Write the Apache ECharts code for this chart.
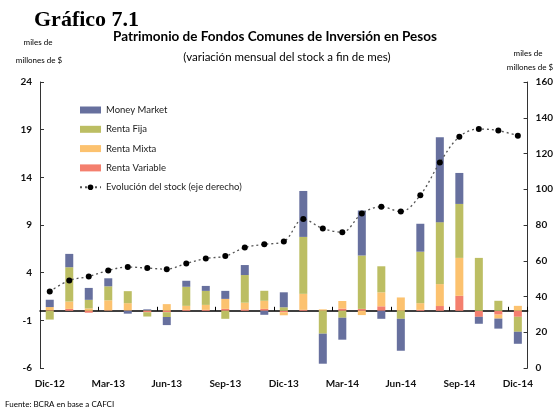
<!DOCTYPE html>
<html>
<head>
<meta charset="utf-8">
<script src="https://cdn.jsdelivr.net/npm/echarts@6/dist/echarts.min.js"></script>
<style>
html,body{margin:0;padding:0;background:#fff;}
#chart{width:556px;height:411px;}
</style>
</head>
<body>
<div id="chart"></div>
<script>
var months = ['Dic-12','Ene-13','Feb-13','Mar-13','Abr-13','May-13','Jun-13','Jul-13','Ago-13','Sep-13','Oct-13','Nov-13','Dic-13','Ene-14','Feb-14','Mar-14','Abr-14','May-14','Jun-14','Jul-14','Ago-14','Sep-14','Oct-14','Nov-14','Dic-14'];
var moneyMarket = [0.77,1.4,1.25,0.84,-0.3,0.1,-0.85,0.63,0.52,0.84,1.05,-0.42,1.57,4.82,-3.15,-2.3,4.72,-0.84,-3.35,2.93,8.9,3.25,-0.73,-1.05,-1.26];
var rentaFija = [-0.92,3.6,0.9,1.47,1.26,-0.45,-0.5,2.0,1.47,-0.84,2.9,1.05,0.37,5.97,-2.4,-0.73,5.6,2.73,-0.84,5.4,6.5,5.66,5.55,1.05,-1.57];
var rentaMixta = [0.34,0.77,0.25,1.05,0.77,0.05,0.7,0.42,0.52,1.05,0.7,0.85,-0.32,1.68,0.15,0.8,-0.45,1.47,1.4,0.7,2.3,3.98,0,-0.42,0.52];
var rentaVariable = [0.05,0.2,-0.2,0.05,0.03,-0.15,-0.15,0.1,0.1,0.2,0.15,0.2,-0.15,0.1,0,0.23,0.2,0.47,0,0.1,0.5,1.57,-0.63,-0.4,-0.63];
var stock = [42.8,49.0,51.2,54.6,56.5,55.9,55.3,58.5,61.3,62.6,67.4,69.2,70.7,83.3,78.0,76.0,86.4,90.2,87.5,96.7,114.9,129.4,133.7,132.8,130.0];
var leftMin = -6, leftMax = 24, leftStep = 5;
var rightMin = 0, rightMax = 160, rightStep = 20;

var FONT = 'Lato, "DejaVu Sans", sans-serif';
var chart = echarts.init(document.getElementById('chart'), null, {renderer:'canvas'});

function barSeries(name, data, color){
  return {name:name, type:'bar', stack:'total', data:data, barWidth:8,
    xAxisIndex:0, yAxisIndex:0, itemStyle:{color:color}, animation:false};
}

var option = {
  animation:false,
  backgroundColor:'#fff',
  grid:{left:40, right:28, top:82, bottom:43, containLabel:false},
  legend:{
    orient:'vertical', left:79, top:104, padding:0,
    itemWidth:21, itemHeight:7, itemGap:7.3,
    textStyle:{fontFamily:FONT, fontSize:9.5, color:'#222', lineHeight:12},
    data:[{name:'Money Market',icon:'rect'},{name:'Renta Fija',icon:'rect'},{name:'Renta Mixta',icon:'rect'},{name:'Renta Variable',icon:'rect'},{name:'Evolución del stock (eje derecho)'}]
  },
  xAxis:[
    {type:'category', data:months, position:'bottom', boundaryGap:true,
      axisLine:{show:true, onZero:true, lineStyle:{color:'#000', width:1.5}},
      axisTick:{show:true, inside:true, length:4, interval:function(i){return i%3===0 && i>0;}, lineStyle:{color:'#000'}},
      axisLabel:{show:false}, splitLine:{show:false}},
    {type:'category', data:months, position:'bottom', boundaryGap:true,
      axisLine:{show:false, onZero:false}, axisTick:{show:false},
      axisLabel:{show:true, interval:2, margin:11, fontFamily:FONT, fontWeight:'bold', fontSize:10, color:'#111'},
      splitLine:{show:false}}
  ],
  yAxis:[
    {type:'value', min:leftMin, max:leftMax, interval:leftStep, position:'left',
      axisLine:{show:true, lineStyle:{color:'#333', width:1}},
      axisTick:{show:true, inside:true, length:4, lineStyle:{color:'#333'}},
      axisLabel:{fontFamily:FONT, fontWeight:'bold', fontSize:10, color:'#111', margin:8},
      splitLine:{show:false}},
    {type:'value', min:rightMin, max:rightMax, interval:rightStep, position:'right',
      axisLine:{show:true, lineStyle:{color:'#333', width:1}},
      axisTick:{show:true, inside:true, length:4, lineStyle:{color:'#333'}},
      axisLabel:{fontFamily:FONT, fontWeight:'bold', fontSize:10, color:'#111', margin:8},
      splitLine:{show:false}}
  ],
  series:[
    barSeries('Renta Variable', rentaVariable, '#f47f6e'),
    barSeries('Renta Mixta', rentaMixta, '#fcc26f'),
    barSeries('Renta Fija', rentaFija, '#bcbe63'),
    barSeries('Money Market', moneyMarket, '#67709e'),
    {name:'Evolución del stock (eje derecho)', type:'line', data:stock, xAxisIndex:0, yAxisIndex:1,
      smooth:0.35, symbol:'circle', symbolSize:6,
      itemStyle:{color:'#000'}, lineStyle:{color:'#555', width:1.3, type:[2,3]}, z:5}
  ],
  graphic:[
    {type:'text', style:{text:'Gráfico 7.1', x:34, y:20, textVerticalAlign:'middle', font:'bold 22px "Liberation Serif", serif', fill:'#000'}},
    {type:'text', style:{text:'Patrimonio de Fondos Comunes de Inversión en Pesos', x:275, y:37, textAlign:'center', textVerticalAlign:'middle', font:'bold 13.5px '+FONT, fill:'#000'}},
    {type:'text', style:{text:'(variación mensual del stock a fin de mes)', x:287, y:57, textAlign:'center', textVerticalAlign:'middle', font:'11.5px '+FONT, fill:'#000'}},
    {type:'text', style:{text:'miles de', x:38, y:42, textAlign:'center', textVerticalAlign:'middle', font:'8px '+FONT, fill:'#000'}},
    {type:'text', style:{text:'millones de $', x:39, y:60, textAlign:'center', textVerticalAlign:'middle', font:'8px '+FONT, fill:'#000'}},
    {type:'text', style:{text:'miles de', x:528, y:53, textAlign:'center', textVerticalAlign:'middle', font:'8px '+FONT, fill:'#000'}},
    {type:'text', style:{text:'millones de $', x:530, y:67, textAlign:'center', textVerticalAlign:'middle', font:'8px '+FONT, fill:'#000'}},
    {type:'text', style:{text:'Fuente: BCRA en base a CAFCI', x:5, y:404, textVerticalAlign:'middle', font:'8px '+FONT, fill:'#000'}}
  ]
};
chart.setOption(option);
</script>
</body>
</html>
